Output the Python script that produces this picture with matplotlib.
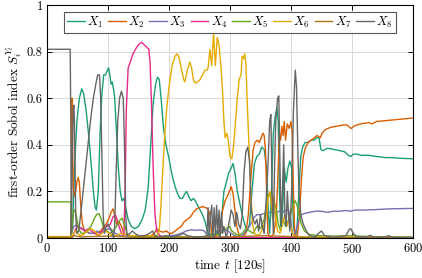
import numpy as np
import matplotlib
matplotlib.use("Agg")
import matplotlib.pyplot as plt

plt.rcParams["font.family"] = "serif"
plt.rcParams["font.serif"] = ["cmr10"]
plt.rcParams["mathtext.fontset"] = "cm"
plt.rcParams["axes.formatter.use_mathtext"] = True
plt.rcParams["axes.unicode_minus"] = False

# (time, first-order Sobol index)
x1_pts = [(0, 0.003), (39, 0.003), (42, 0.05), (45, 0.3), (49, 0.5), (53, 0.6), (57, 0.64), (60, 0.62),
          (64, 0.55), (68, 0.45), (72, 0.33), (76, 0.2), (79, 0.13), (81, 0.12), (84, 0.2), (87, 0.45),
          (90, 0.62), (93, 0.7), (96, 0.7), (99, 0.72), (101, 0.73), (103, 0.7), (105, 0.66), (107, 0.67),
          (109, 0.64), (111, 0.6), (114, 0.45), (117, 0.3), (120, 0.2), (123, 0.16), (126, 0.17), (129, 0.13),
          (133, 0.08), (138, 0.05), (144, 0.04), (150, 0.05), (156, 0.08), (161, 0.12), (166, 0.22), (170, 0.4),
          (174, 0.58), (178, 0.66), (181, 0.69), (184, 0.68), (187, 0.6), (191, 0.47), (195, 0.4), (200, 0.34),
          (205, 0.27), (210, 0.22), (214, 0.19), (218, 0.17), (222, 0.17), (226, 0.19), (229, 0.2), (232, 0.18),
          (236, 0.16), (240, 0.17), (243, 0.16), (247, 0.14), (251, 0.12), (255, 0.1), (259, 0.07), (263, 0.03),
          (266, 0.01), (270, 0.02), (274, 0.0), (278, 0.03), (282, 0.01), (286, 0.08), (290, 0.2), (294, 0.24),
          (298, 0.28), (302, 0.3), (305, 0.32), (308, 0.28), (312, 0.2), (316, 0.15), (320, 0.1), (324, 0.06),
          (328, 0.03), (332, 0.06), (336, 0.2), (340, 0.32), (344, 0.35), (348, 0.36), (352, 0.39), (356, 0.38),
          (360, 0.3), (363, 0.1), (365, 0.02), (368, 0.2), (371, 0.45), (374, 0.52), (377, 0.56), (379, 0.5),
          (381, 0.2), (383, 0.05), (386, 0.1), (389, 0.3), (392, 0.24), (395, 0.3), (398, 0.33), (401, 0.3),
          (404, 0.05), (407, 0.0), (410, 0.05), (413, 0.2), (416, 0.35), (419, 0.39), (423, 0.41), (428, 0.41),
          (433, 0.42), (438, 0.42), (442, 0.43), (446, 0.43), (449, 0.38), (452, 0.375), (460, 0.385), (470, 0.38),
          (480, 0.375), (488, 0.37), (494, 0.355), (498, 0.35), (502, 0.36), (508, 0.36), (515, 0.355),
          (527, 0.355), (540, 0.35), (555, 0.345), (565, 0.345), (580, 0.342), (600, 0.34)]

x2_pts = [(0, 0.005), (39, 0.005), (40, 0.2), (41, 0.6), (42, 0.4), (43, 0.22), (45, 0.18), (47, 0.2),
          (49, 0.24), (51, 0.26), (53, 0.24), (55, 0.15), (58, 0.06), (62, 0.03), (70, 0.02), (80, 0.02),
          (88, 0.03), (93, 0.05), (97, 0.06), (101, 0.08), (105, 0.11), (108, 0.125), (111, 0.1), (114, 0.06),
          (118, 0.07), (122, 0.05), (126, 0.02), (132, 0.01), (150, 0.005), (170, 0.01), (176, 0.02), (180, 0.04),
          (184, 0.03), (190, 0.025), (196, 0.03), (200, 0.02), (205, 0.02), (210, 0.03), (215, 0.04), (220, 0.05),
          (225, 0.07), (230, 0.08), (235, 0.09), (240, 0.11), (245, 0.125), (250, 0.13), (255, 0.135), (260, 0.13),
          (264, 0.125), (267, 0.1), (270, 0.02), (274, 0.0), (280, 0.02), (284, 0.05), (288, 0.12), (292, 0.16),
          (296, 0.18), (299, 0.2), (302, 0.22), (305, 0.19), (308, 0.12), (311, 0.05), (315, 0.01), (320, 0.0),
          (326, 0.02), (330, 0.1), (334, 0.25), (338, 0.38), (341, 0.41), (345, 0.42), (348, 0.41), (351, 0.43),
          (354, 0.45), (356, 0.44), (358, 0.38), (360, 0.2), (362, 0.02), (366, 0.0), (372, 0.02), (376, 0.1),
          (379, 0.3), (381, 0.45), (383, 0.42), (385, 0.48), (387, 0.44), (389, 0.5), (391, 0.42), (394, 0.49),
          (397, 0.47), (400, 0.5), (402, 0.45), (404, 0.2), (406, 0.02), (410, 0.0), (414, 0.1), (417, 0.25),
          (420, 0.35), (424, 0.39), (428, 0.41), (433, 0.42), (438, 0.43), (443, 0.44), (448, 0.43), (451, 0.45),
          (456, 0.465), (465, 0.475), (475, 0.48), (485, 0.485), (492, 0.485), (496, 0.475), (499, 0.47),
          (503, 0.48), (508, 0.485), (515, 0.49), (527, 0.495), (533, 0.49), (540, 0.5), (560, 0.505),
          (580, 0.51), (600, 0.515)]

x3_pts = [(0, 0.002), (39, 0.002), (41, 0.03), (44, 0.05), (48, 0.055), (52, 0.05), (58, 0.04), (64, 0.03),
          (70, 0.02), (76, 0.02), (82, 0.03), (88, 0.02), (94, 0.03), (100, 0.04), (106, 0.035), (112, 0.02),
          (120, 0.01), (130, 0.005), (150, 0.003), (170, 0.003), (190, 0.005), (200, 0.01), (210, 0.012),
          (220, 0.02), (228, 0.03), (236, 0.035), (244, 0.033), (252, 0.035), (258, 0.03), (263, 0.01),
          (270, 0.005), (278, 0.02), (284, 0.03), (290, 0.035), (296, 0.03), (302, 0.02), (308, 0.01),
          (314, 0.005), (320, 0.01), (326, 0.03), (332, 0.05), (336, 0.07), (340, 0.09), (344, 0.1), (350, 0.1),
          (356, 0.105), (362, 0.11), (368, 0.11), (374, 0.105), (380, 0.115), (386, 0.11), (392, 0.12),
          (396, 0.12), (399, 0.09), (402, 0.02), (405, 0.01), (409, 0.04), (413, 0.08), (417, 0.1), (422, 0.105),
          (430, 0.11), (440, 0.115), (450, 0.115), (460, 0.11), (470, 0.115), (480, 0.115), (490, 0.118),
          (498, 0.115), (505, 0.12), (520, 0.12), (540, 0.122), (560, 0.125), (580, 0.126), (600, 0.127)]

x4_pts = [(0, 0.001), (40, 0.001), (43, 0.01), (47, 0.04), (51, 0.05), (56, 0.04), (62, 0.03), (68, 0.04),
          (73, 0.03), (78, 0.02), (84, 0.01), (90, 0.03), (95, 0.05), (100, 0.05), (104, 0.06), (108, 0.09),
          (112, 0.1), (115, 0.08), (118, 0.05), (122, 0.02), (126, 0.01), (128, 0.2), (130, 0.55), (133, 0.73),
          (137, 0.76), (141, 0.79), (145, 0.81), (150, 0.83), (155, 0.84), (159, 0.83), (163, 0.82), (167, 0.81),
          (169, 0.75), (171, 0.6), (174, 0.3), (177, 0.1), (180, 0.03), (185, 0.01), (195, 0.003), (600, 0.001)]

x5_pts = [(0, 0.155), (39, 0.155), (40, 0.01), (42, 0.08), (44, 0.12), (46, 0.12), (49, 0.08), (52, 0.04),
          (56, 0.02), (60, 0.02), (66, 0.03), (72, 0.05), (77, 0.08), (81, 0.1), (85, 0.105), (89, 0.08),
          (93, 0.04), (98, 0.03), (103, 0.02), (108, 0.03), (114, 0.05), (119, 0.075), (123, 0.085), (127, 0.06),
          (131, 0.02), (136, 0.01), (150, 0.005), (200, 0.003), (260, 0.005), (270, 0.01), (276, 0.02),
          (282, 0.01), (288, 0.03), (294, 0.04), (299, 0.05), (303, 0.03), (308, 0.02), (314, 0.01), (320, 0.02),
          (326, 0.04), (332, 0.03), (338, 0.02), (344, 0.05), (350, 0.04), (356, 0.08), (360, 0.15), (364, 0.19),
          (367, 0.17), (370, 0.08), (373, 0.15), (376, 0.12), (379, 0.06), (383, 0.03), (387, 0.08), (391, 0.05),
          (395, 0.07), (399, 0.1), (403, 0.14), (407, 0.16), (410, 0.14), (413, 0.1), (417, 0.06), (422, 0.03),
          (430, 0.015), (445, 0.01), (470, 0.008), (498, 0.01), (530, 0.006), (600, 0.004)]

x6_pts = [(0, 0.006), (39, 0.006), (42, 0.01), (46, 0.03), (50, 0.02), (55, 0.01), (60, 0.015), (66, 0.03),
          (72, 0.04), (78, 0.03), (84, 0.01), (90, 0.02), (96, 0.03), (102, 0.02), (108, 0.01), (114, 0.01),
          (120, 0.02), (128, 0.015), (136, 0.01), (146, 0.01), (156, 0.01), (166, 0.01), (174, 0.01), (180, 0.01),
          (184, 0.03), (187, 0.15), (190, 0.3), (193, 0.44), (196, 0.55), (200, 0.65), (205, 0.74), (210, 0.78),
          (213, 0.79), (216, 0.78), (220, 0.73), (224, 0.68), (226, 0.67), (230, 0.72), (234, 0.755), (237, 0.73),
          (240, 0.68), (243, 0.665), (247, 0.67), (251, 0.68), (255, 0.7), (259, 0.72), (262, 0.72), (264, 0.73),
          (267, 0.81), (270, 0.74), (273, 0.88), (276, 0.74), (279, 0.86), (282, 0.83), (285, 0.74), (288, 0.62),
          (290, 0.5), (292, 0.43), (295, 0.45), (297, 0.42), (300, 0.35), (303, 0.34), (306, 0.4), (309, 0.5),
          (312, 0.6), (315, 0.68), (318, 0.7), (320, 0.78), (322, 0.77), (324, 0.79), (326, 0.75), (328, 0.6),
          (331, 0.4), (334, 0.2), (337, 0.06), (340, 0.02), (345, 0.01), (350, 0.02), (355, 0.05), (360, 0.1),
          (363, 0.18), (366, 0.2), (369, 0.12), (372, 0.18), (375, 0.08), (378, 0.03), (382, 0.02), (386, 0.06),
          (390, 0.1), (393, 0.05), (397, 0.08), (401, 0.03), (405, 0.01), (410, 0.005), (600, 0.002)]

x7_pts = [(0, 0.003), (40, 0.003), (45, 0.01), (55, 0.005), (100, 0.008), (150, 0.003), (300, 0.005),
          (360, 0.01), (400, 0.006), (430, 0.002), (600, 0.002)]

x8_pts = [(0, 0.81), (38, 0.81), (39, 0.5), (40, 0.02), (41, 0.3), (43, 0.55), (44, 0.57), (45, 0.5),
          (46, 0.3), (47, 0.1), (49, 0.02), (52, 0.03), (56, 0.12), (60, 0.22), (64, 0.32), (68, 0.42),
          (72, 0.52), (76, 0.6), (80, 0.66), (83, 0.7), (86, 0.7), (88, 0.6), (90, 0.35), (92, 0.1), (94, 0.02),
          (97, 0.05), (100, 0.06), (104, 0.04), (107, 0.02), (109, 0.0), (111, 0.05), (113, 0.25), (116, 0.5),
          (119, 0.6), (122, 0.63), (125, 0.6), (127, 0.4), (129, 0.1), (131, 0.01), (136, 0.02), (140, 0.03),
          (144, 0.02), (150, 0.01), (160, 0.01), (168, 0.02), (173, 0.03), (177, 0.01), (185, 0.005), (195, 0.01),
          (205, 0.005), (215, 0.01), (224, 0.02), (230, 0.01), (240, 0.005), (255, 0.005), (262, 0.01),
          (264, 0.13), (266, 0.0), (268, 0.1), (270, 0.14), (272, 0.0), (274, 0.13), (276, 0.01), (278, 0.14),
          (280, 0.02), (282, 0.12), (284, 0.0), (286, 0.11), (288, 0.02), (290, 0.05), (294, 0.0), (298, 0.06),
          (302, 0.12), (305, 0.1), (308, 0.05), (311, 0.11), (314, 0.06), (317, 0.04), (320, 0.1), (323, 0.28),
          (326, 0.37), (329, 0.39), (332, 0.33), (335, 0.12), (338, 0.08), (341, 0.06), (344, 0.08), (347, 0.03),
          (350, 0.1), (353, 0.05), (356, 0.02), (359, 0.15), (362, 0.3), (365, 0.5), (367, 0.53), (369, 0.2),
          (371, 0.02), (373, 0.3), (375, 0.5), (378, 0.6), (380, 0.61), (382, 0.3), (384, 0.05), (386, 0.2),
          (388, 0.4), (390, 0.1), (392, 0.05), (394, 0.2), (396, 0.1), (398, 0.03), (401, 0.2), (404, 0.55),
          (407, 0.72), (409, 0.65), (411, 0.4), (413, 0.2), (416, 0.1), (420, 0.06), (425, 0.03), (430, 0.01),
          (440, 0.005), (445, 0.02), (450, 0.03), (455, 0.01), (470, 0.003), (490, 0.01), (495, 0.035),
          (498, 0.04), (502, 0.02), (508, 0.005), (525, 0.005), (530, 0.012), (535, 0.003), (555, 0.005),
          (560, 0.01), (566, 0.003), (600, 0.002)]

series = [x1_pts, x2_pts, x3_pts, x4_pts, x5_pts, x6_pts, x7_pts, x8_pts]
labels = [r"$X_{%d}$" % (i + 1) for i in range(8)]
colors = ["#1b9e77", "#d95f02", "#7570b3", "#e7298a", "#66a61e", "#e6ab02", "#a6761d", "#666666"]

x_ticks = [0, 100, 200, 300, 400, 500, 600]
y_ticks = [0, 0.2, 0.4, 0.6, 0.8, 1]
y_ticklabels = ["0", "0.2", "0.4", "0.6", "0.8", "1"]

fig = plt.figure(figsize=(4.22, 2.78), dpi=100)
ax = fig.add_axes([0.1114, 0.1439, 0.8673, 0.8381])

for pts, lab, col in zip(series, labels, colors):
    arr = np.array(pts)
    ax.plot(arr[:, 0], arr[:, 1], color=col, lw=1.0, label=lab)

ax.set_xlim(0, 600)
ax.set_ylim(0, 1)
ax.set_xticks(x_ticks)
ax.set_yticks(y_ticks)
ax.set_yticklabels(y_ticklabels)
ax.grid(True, color="#d9d9d9", lw=0.7)
ax.set_axisbelow(True)
ax.tick_params(direction="in", top=True, right=True, length=3.5, width=0.7, labelsize=9, pad=3)
for sp in ax.spines.values():
    sp.set_linewidth(0.8)

ax.set_xlabel(r"time $t$ [120s]", fontsize=9.5, labelpad=1)
ax.set_ylabel(r"first-order Sobol index $S_i^{Y_t}$", fontsize=9.5, labelpad=2)

leg = ax.legend(loc="upper center", bbox_to_anchor=(0.5, 0.972), ncol=8, fontsize=9,
                handlelength=1.4, handletextpad=0.2, columnspacing=0.4, borderpad=0.25,
                borderaxespad=0, fancybox=False, framealpha=1)
leg.get_frame().set_edgecolor("#555555")
leg.get_frame().set_linewidth(0.8)

fig.savefig("out.png", dpi=100)
